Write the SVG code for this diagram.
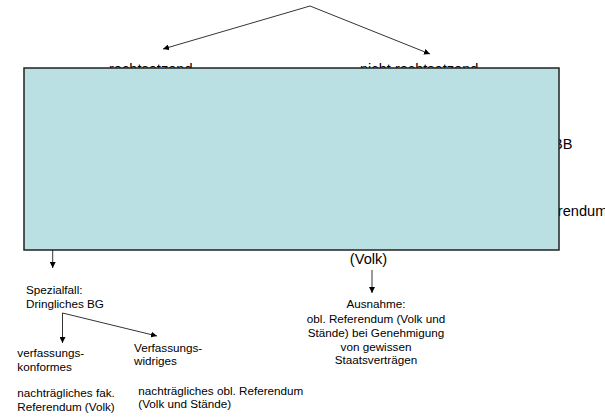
<svg xmlns="http://www.w3.org/2000/svg" width="605" height="417" viewBox="0 0 605 417">
<style>
.big{font-family:"Liberation Sans",Arial,sans-serif;font-size:14.6px;fill:#000}
.sm{font-family:"Liberation Sans",Arial,sans-serif;font-size:11.7px;fill:#000}
.ln{stroke:#000;stroke-width:0.8;fill:none;marker-end:url(#ah)}
.c{text-anchor:middle}
</style>
<defs>
<marker id="ah" viewBox="0 0 10 10" refX="10" refY="5" markerWidth="6" markerHeight="6" markerUnits="userSpaceOnUse" orient="auto">
<path d="M0,0 L10,5 L0,10 z" fill="#000"/>
</marker>
</defs>
<rect width="605" height="417" fill="#fff"/>
<g id="hidden-texts">
<text class="big" x="109" y="73.5">rechtsetzend</text>
<text class="big" x="360" y="73.5">nicht rechtsetzend</text>
<text class="big" x="553" y="149">BB</text>
<text class="big" x="527" y="216">Referendum</text>
</g>
<g id="main-box">
<rect x="24" y="68" width="535" height="182" fill="#BBE0E3" stroke="#222" stroke-width="1.5"/>
</g>
<g id="connectors">
<line class="ln" x1="310" y1="6" x2="163" y2="49"/>
<line class="ln" x1="310" y1="6" x2="430" y2="54"/>
<line class="ln" x1="52.7" y1="250" x2="52.7" y2="268"/>
<line class="ln" x1="372" y1="270" x2="372" y2="293"/>
<line class="ln" x1="62.5" y1="313" x2="62.5" y2="343"/>
<line class="ln" x1="62.5" y1="313" x2="157" y2="336"/>
</g>
<g id="volk">
<text class="big" x="368.5" y="264" text-anchor="middle">(Volk)</text>
</g>
<g id="ausnahme">
<text class="sm c" x="376" y="308.3">Ausnahme:</text>
<text class="sm c" x="376" y="322.7">obl. Referendum (Volk und</text>
<text class="sm c" x="376" y="336.7">Stände) bei Genehmigung</text>
<text class="sm c" x="376" y="350.5">von gewissen</text>
<text class="sm c" x="376" y="364.3">Staatsverträgen</text>
</g>
<g id="spezialfall">
<text class="sm" x="26" y="294.3">Spezialfall:</text>
<text class="sm" x="26" y="307.7">Dringliches BG</text>
</g>
<g id="konform">
<text class="sm" x="17.3" y="357.3">verfassungs-</text>
<text class="sm" x="17.3" y="370.5">konformes</text>
</g>
<g id="widrig">
<text class="sm" x="134" y="351.7">Verfassungs-</text>
<text class="sm" x="134" y="365">widriges</text>
</g>
<g id="fak-ref">
<text class="sm" x="17.3" y="397.3">nachträgliches fak.</text>
<text class="sm" x="17.3" y="410.5">Referendum (Volk)</text>
</g>
<g id="obl-ref">
<text class="sm" x="138.3" y="395">nachträgliches obl. Referendum</text>
<text class="sm" x="138.3" y="408">(Volk und Stände)</text>
</g>
</svg>
